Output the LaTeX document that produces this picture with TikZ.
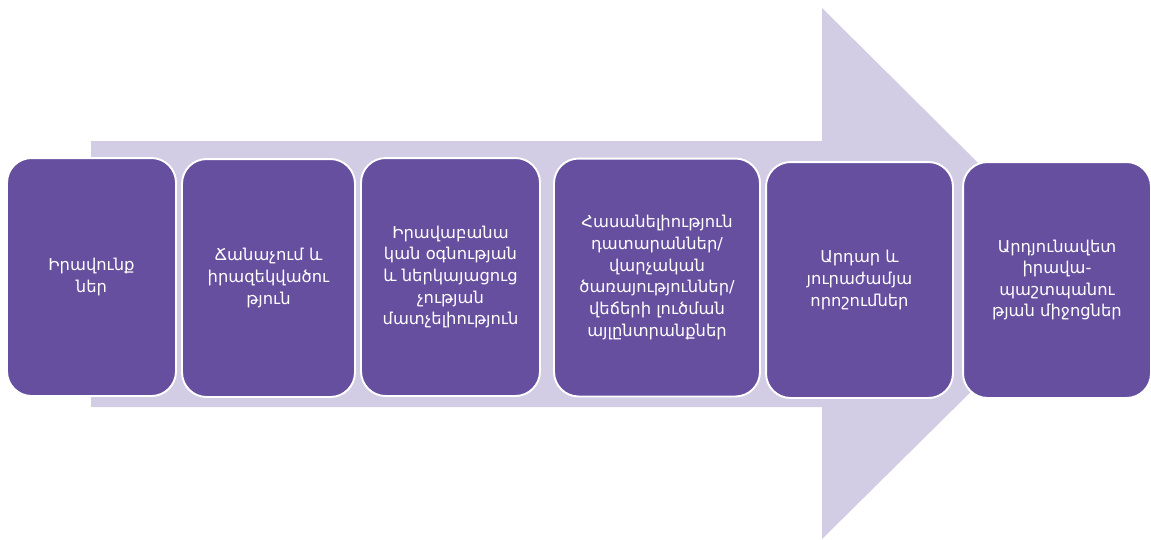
\documentclass[tikz,border=0pt]{standalone}
\usepackage{fontspec}
\usepackage{tikz}
\usetikzlibrary{positioning}
\newfontfamily\armfont[Script=Armenian]{DejaVu Sans}
\definecolor{stepviolet}{HTML}{664F9F}
\definecolor{arrowlilac}{HTML}{D2CCE4}

\begin{document}
\begin{tikzpicture}[x=0.02cm, y=-0.02cm,
    box/.style={draw=white, line width=1.1pt, fill=stepviolet, rounded corners=14pt,
                minimum height=4.76cm, align=center, text=white,
                font=\armfont\fontsize{9.3}{12.3}\selectfont},
]
    \useasboundingbox (0,0) rectangle (1151,539);
    % big arrow behind the steps
    \fill[arrowlilac] (91,141) -- (822,141) -- (822,8) -- (1090,274)
        -- (822,539) -- (822,407) -- (91,407) -- cycle;

    \node[box, minimum width=3.38cm] (rights) at (91.5,277) {Իրավունք\\ներ};
    \node[box, minimum width=3.46cm] (aware) at (268.5,278) {Ճանաչում և\\իրազեկվածու\\թյուն};
    \node[box, minimum width=3.58cm] (legalaid) at (450.5,277) {Իրավաբանա\\կան օգնության\\և ներկայացուց\\չության\\մատչելիություն};
    \node[box, minimum width=4.12cm] (access) at (657,277.5) {Հասանելիություն\\դատարաններ/\\վարչական\\ծառայություններ/\\վեճերի լուծման\\այլընտրանքներ};
    \node[box, minimum width=3.74cm, minimum height=4.72cm] (decision) at (859.5,280) {Արդար և\\յուրաժամյա\\որոշումներ};
    \node[box, minimum width=3.76cm, minimum height=4.72cm] (remedy) at (1057,280) {Արդյունավետ\\իրավա-\\պաշտպանու\\թյան միջոցներ};
\end{tikzpicture}
\end{document}
